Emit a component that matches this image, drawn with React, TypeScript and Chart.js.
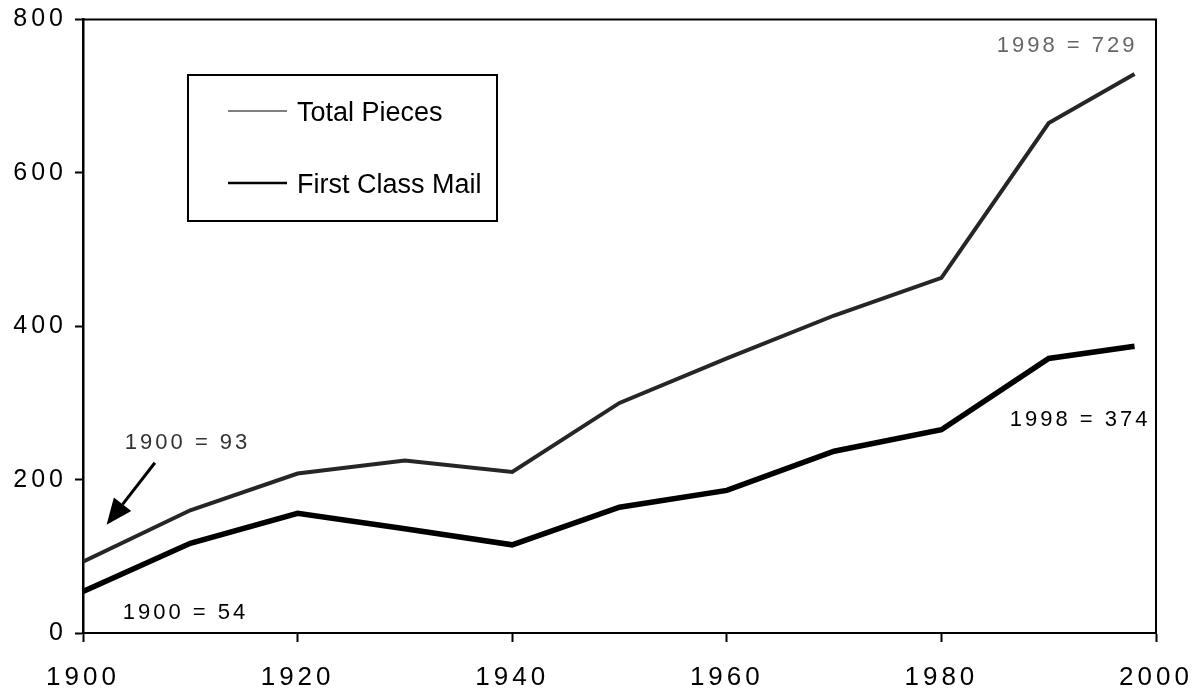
import React, { useEffect, useRef } from 'react';
import { Chart, registerables } from 'chart.js';

Chart.register(...registerables);

// ---- data ----
const years = [1900, 1910, 1920, 1930, 1940, 1950, 1960, 1970, 1980, 1990, 1998];
const totalPieces = [93, 160, 208, 225, 210, 300, 358, 414, 463, 665, 729];
const firstClassMail = [54, 117, 156, 136, 115, 164, 186, 237, 265, 358, 374];
const xTickValues = [1900, 1920, 1940, 1960, 1980, 2000];
const yTickValues = [0, 200, 400, 600, 800];
const seriesNames = ['Total Pieces', 'First Class Mail'];

// annotation texts anchored in data units
const noteTexts = ['1998 = 729', '1998 = 374', '1900 = 93', '1900 = 54'];
const noteYears = [1998.0, 1999.2, 1903.9, 1903.7];
const noteValues = [766, 278, 248, 26];
const noteAligns = ['right', 'right', 'left', 'left'];
const noteColors = ['#666666', '#000000', '#333333', '#000000'];
// arrow from (year, value) to (year, value)
const arrowFrom = [1906.7, 222];
const arrowTo = [1902.2, 141];

const FONT = '"Liberation Sans", Arial, Helvetica, sans-serif';

const framePlugin = {
  id: 'frame',
  beforeDraw(chart: any) {
    chart.ctx.letterSpacing = '4px';
  },
  beforeDatasetsDraw(chart: any) {
    chart.ctx.letterSpacing = '0px';
  },
  afterDraw(chart: any) {
    const ctx = chart.ctx;
    const ca = chart.chartArea;
    const xs = chart.scales.x;
    const ys = chart.scales.y;
    ctx.save();
    // top and right frame lines
    ctx.strokeStyle = '#000';
    ctx.lineWidth = 2;
    ctx.beginPath();
    ctx.moveTo(ca.left, ca.top);
    ctx.lineTo(ca.right, ca.top);
    ctx.lineTo(ca.right, ca.bottom);
    ctx.stroke();

    // legend box
    const bx = ca.left + 105;
    const by = ca.top + 55.5;
    ctx.lineWidth = 2;
    ctx.strokeRect(bx, by, 309, 146);
    // legend samples
    ctx.strokeStyle = '#555';
    ctx.lineWidth = 1.5;
    ctx.beginPath();
    ctx.moveTo(ca.left + 145, ca.top + 91.5);
    ctx.lineTo(ca.left + 204, ca.top + 91.5);
    ctx.stroke();
    ctx.strokeStyle = '#000';
    ctx.lineWidth = 2.5;
    ctx.beginPath();
    ctx.moveTo(ca.left + 145, ca.top + 163.5);
    ctx.lineTo(ca.left + 204, ca.top + 163.5);
    ctx.stroke();
    ctx.fillStyle = '#000';
    ctx.font = `27px ${FONT}`;
    ctx.textAlign = 'left';
    ctx.textBaseline = 'middle';
    ctx.letterSpacing = '0px';
    ctx.fillText(seriesNames[0], ca.left + 214, ca.top + 94);
    ctx.fillText(seriesNames[1], ca.left + 214, ca.top + 166);

    // annotations
    ctx.font = `22px ${FONT}`;
    ctx.letterSpacing = '3px';
    for (let i = 0; i < noteTexts.length; i++) {
      ctx.fillStyle = noteColors[i];
      ctx.textAlign = noteAligns[i];
      const px = xs.getPixelForValue(noteYears[i]) + (noteAligns[i] === 'right' ? 3 : 0);
      ctx.fillText(noteTexts[i], px, ys.getPixelForValue(noteValues[i]));
    }
    ctx.letterSpacing = '0px';

    // arrow
    const x1 = xs.getPixelForValue(arrowFrom[0]);
    const y1 = ys.getPixelForValue(arrowFrom[1]);
    const x2 = xs.getPixelForValue(arrowTo[0]);
    const y2 = ys.getPixelForValue(arrowTo[1]);
    const ang = Math.atan2(y2 - y1, x2 - x1);
    const headLen = 26;
    const headW = 11;
    const bxh = x2 - headLen * Math.cos(ang);
    const byh = y2 - headLen * Math.sin(ang);
    ctx.strokeStyle = '#000';
    ctx.fillStyle = '#000';
    ctx.lineWidth = 3;
    ctx.beginPath();
    ctx.moveTo(x1, y1);
    ctx.lineTo(bxh, byh);
    ctx.stroke();
    ctx.beginPath();
    ctx.moveTo(x2, y2);
    ctx.lineTo(bxh + headW * Math.sin(ang), byh - headW * Math.cos(ang));
    ctx.lineTo(bxh - headW * Math.sin(ang), byh + headW * Math.cos(ang));
    ctx.closePath();
    ctx.fill();
    ctx.restore();
  },
};

export default function App() {
  const ref = useRef<HTMLCanvasElement | null>(null);

  useEffect(() => {
    if (!ref.current) return;
    const chart = new Chart(ref.current, {
      type: 'line',
      data: {
        datasets: [
          {
            label: seriesNames[0],
            data: years.map((y, i) => ({ x: y, y: totalPieces[i] })),
            borderColor: '#262626',
            borderWidth: 4,
            pointRadius: 0,
            tension: 0,
          },
          {
            label: seriesNames[1],
            data: years.map((y, i) => ({ x: y, y: firstClassMail[i] })),
            borderColor: '#000000',
            borderWidth: 5.5,
            pointRadius: 0,
            tension: 0,
          },
        ],
      },
      options: {
        animation: false,
        responsive: true,
        maintainAspectRatio: false,
        layout: { padding: { top: 19.5, right: 39, left: 0, bottom: 0 } },
        plugins: {
          legend: { display: false },
          tooltip: { enabled: false },
        },
        scales: {
          x: {
            type: 'linear',
            min: 1900,
            max: 2000,
            afterBuildTicks: (s: any) => {
              s.ticks = xTickValues.map((v) => ({ value: v }));
            },
            afterFit: (s: any) => {
              s.height = 62;
              s.paddingLeft = 0;
              s.paddingRight = 0;
            },
            grid: {
              drawOnChartArea: false,
              drawTicks: true,
              tickLength: 9,
              tickColor: '#000',
              tickWidth: 2,
            },
            border: { display: true, color: '#000', width: 2 },
            ticks: {
              color: '#000',
              font: { family: FONT, size: 26 },
              padding: 20,
              maxRotation: 0,
              autoSkip: false,
              callback: (v: any) => String(v),
            },
          },
          y: {
            type: 'linear',
            min: 0,
            max: 800,
            afterBuildTicks: (s: any) => {
              s.ticks = yTickValues.map((v) => ({ value: v }));
            },
            afterFit: (s: any) => {
              s.width = 83;
              s.paddingTop = 0;
              s.paddingBottom = 0;
            },
            grid: {
              drawOnChartArea: false,
              drawTicks: true,
              tickLength: 8,
              tickColor: '#000',
              tickWidth: 2,
            },
            border: { display: true, color: '#000', width: 2.5 },
            ticks: {
              color: '#000',
              font: { family: FONT, size: 25 },
              padding: 8,
              autoSkip: false,
              callback: (v: any) => String(v),
            },
          },
        },
      },
      plugins: [framePlugin],
    } as any);
    return () => chart.destroy();
  }, []);

  return (
    <div style={{ position: 'absolute', left: 0, top: 0, width: 1195, height: 695, background: '#fff' }}>
      <canvas ref={ref} />
    </div>
  );
}
